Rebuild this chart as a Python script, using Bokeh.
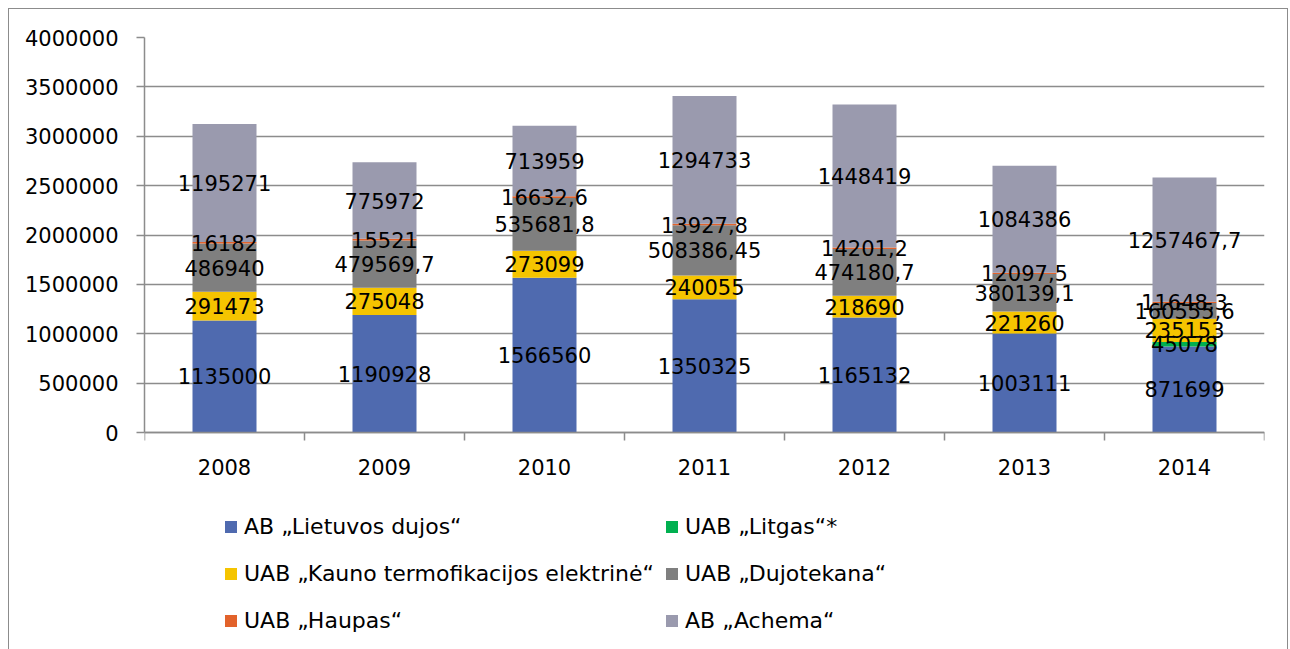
from bokeh.plotting import figure
from bokeh.models import (ColumnDataSource, FixedTicker, Legend, LegendItem,
                          LabelSet, Range1d, NumeralTickFormatter)
from bokeh.core.properties import value
from bokeh.embed import file_html
from bokeh.resources import INLINE

years = ["2008", "2009", "2010", "2011", "2012", "2013", "2014"]
series_names = ["AB „Lietuvos dujos“", "UAB „Litgas“*",
                "UAB „Kauno termofikacijos elektrinė“", "UAB „Dujotekana“",
                "UAB „Haupas“", "AB „Achema“"]
lietuvos_dujos = [1135000, 1190928, 1566560, 1350325, 1165132, 1003111, 871699]
litgas = [0, 0, 0, 0, 0, 0, 45078]
kauno_te = [291473, 275048, 273099, 240055, 218690, 221260, 235153]
dujotekana = [486940, 479569.7, 535681.8, 508386.45, 474180.7, 380139.1, 160555.6]
haupas = [16182, 15521, 16632.6, 13927.8, 14201.2, 12097.5, 11648.3]
achema = [1195271, 775972, 713959, 1294733, 1448419, 1084386, 1257467.7]
y_ticks = [0, 500000, 1000000, 1500000, 2000000, 2500000, 3000000, 3500000, 4000000]

colors = ["#4F6AAF", "#00B050", "#F5C400", "#7F7F7F", "#E2622B", "#9A9AAE"]
FONT = "DejaVu Sans"
GRID = "#8C8C8C"

series = [lietuvos_dujos, litgas, kauno_te, dujotekana, haupas, achema]


def fmt(v):
    if float(v).is_integer():
        return str(int(v))
    return repr(float(v)).replace(".", ",")


# frame spans from the top gridline down to the bottom of the page;
# the value axis occupies 395 px of the 613 px frame height
ymax = y_ticks[-1]
ymin = -ymax * (613 - 395) / 395

p = figure(width=1280, height=641, x_range=Range1d(0, len(years)),
           y_range=Range1d(ymin, ymax),
           output_backend="svg", toolbar_location=None,
           min_border_left=135, min_border_right=25, min_border_top=28,
           min_border_bottom=0)
p.outline_line_color = None
p.styles = {"margin-left": "8px", "margin-top": "8px",
            "border-left": "1px solid #8C8C8C", "border-top": "1px solid #8C8C8C",
            "border-right": "1px solid #8C8C8C"}

xs = [i + 0.5 for i in range(len(years))]
bottoms = [0.0] * len(years)
lab_x, lab_y, lab_t = [], [], []
items = []
for name, vals, col in zip(series_names, series, colors):
    tops = [b + v for b, v in zip(bottoms, vals)]
    src = ColumnDataSource(dict(x=xs, bottom=bottoms, top=tops))
    r = p.vbar(x="x", width=0.4, bottom="bottom", top="top", source=src,
               fill_color=col, line_color=None)
    items.append(LegendItem(label=name, renderers=[r]))
    for x, b, v in zip(xs, bottoms, vals):
        if v:
            lab_x.append(x)
            lab_y.append(b + v / 2)
            lab_t.append(fmt(v))
    bottoms = tops

labels = LabelSet(x="x", y="y", text="t",
                  source=ColumnDataSource(dict(x=lab_x, y=lab_y, t=lab_t)),
                  text_align="center", text_baseline="middle",
                  text_font=value(FONT), text_font_size="21px", text_color="black")
p.add_layout(labels)

# axes
p.xgrid.visible = False
p.ygrid.grid_line_color = GRID
p.ygrid.grid_line_width = 1.5
p.ygrid.ticker = FixedTicker(ticks=y_ticks)
p.ygrid.bounds = (y_ticks[0], y_ticks[-1])

p.yaxis.ticker = FixedTicker(ticks=y_ticks)
p.yaxis.bounds = (y_ticks[0], y_ticks[-1])
p.yaxis.formatter = NumeralTickFormatter(format="0")
p.yaxis.axis_line_color = GRID
p.yaxis.axis_line_width = 1.5
p.yaxis.major_tick_line_color = GRID
p.yaxis.major_tick_line_width = 1.5
p.yaxis.major_tick_out = 8
p.yaxis.major_tick_in = 0
p.yaxis.minor_tick_line_color = None
p.yaxis.major_label_standoff = 18
p.yaxis.major_label_text_font = FONT
p.yaxis.major_label_text_font_size = "21px"
p.yaxis.major_label_text_color = "black"

p.xaxis.fixed_location = 0
p.xaxis.ticker = FixedTicker(ticks=xs, minor_ticks=list(range(len(years) + 1)))
p.xaxis.major_label_overrides = {x: y for x, y in zip(xs, years)}
p.xaxis.axis_line_color = GRID
p.xaxis.axis_line_width = 1.5
p.xaxis.major_tick_line_color = None
p.xaxis.major_tick_out = 0
p.xaxis.major_tick_in = 0
p.xaxis.minor_tick_line_color = GRID
p.xaxis.minor_tick_line_width = 1.5
p.xaxis.minor_tick_out = 8
p.xaxis.minor_tick_in = 0
p.xaxis.major_label_standoff = 18
p.xaxis.major_label_text_font = FONT
p.xaxis.major_label_text_font_size = "21px"
p.xaxis.major_label_text_color = "black"

legend_style = dict(label_text_font=FONT, label_text_font_size="22px",
                    label_text_color="black",
                    glyph_width=15, glyph_height=15, label_standoff=6,
                    label_height=15, spacing=22, padding=0, margin=0,
                    border_line_color=None, background_fill_alpha=0)
legend_left = Legend(items=items[0::2], location=(79, 17), **legend_style)
legend_right = Legend(items=items[1::2], location=(520, 17), **legend_style)
p.add_layout(legend_left, "center")
p.add_layout(legend_right, "center")

open("out.html", "w").write(file_html(p, INLINE))
